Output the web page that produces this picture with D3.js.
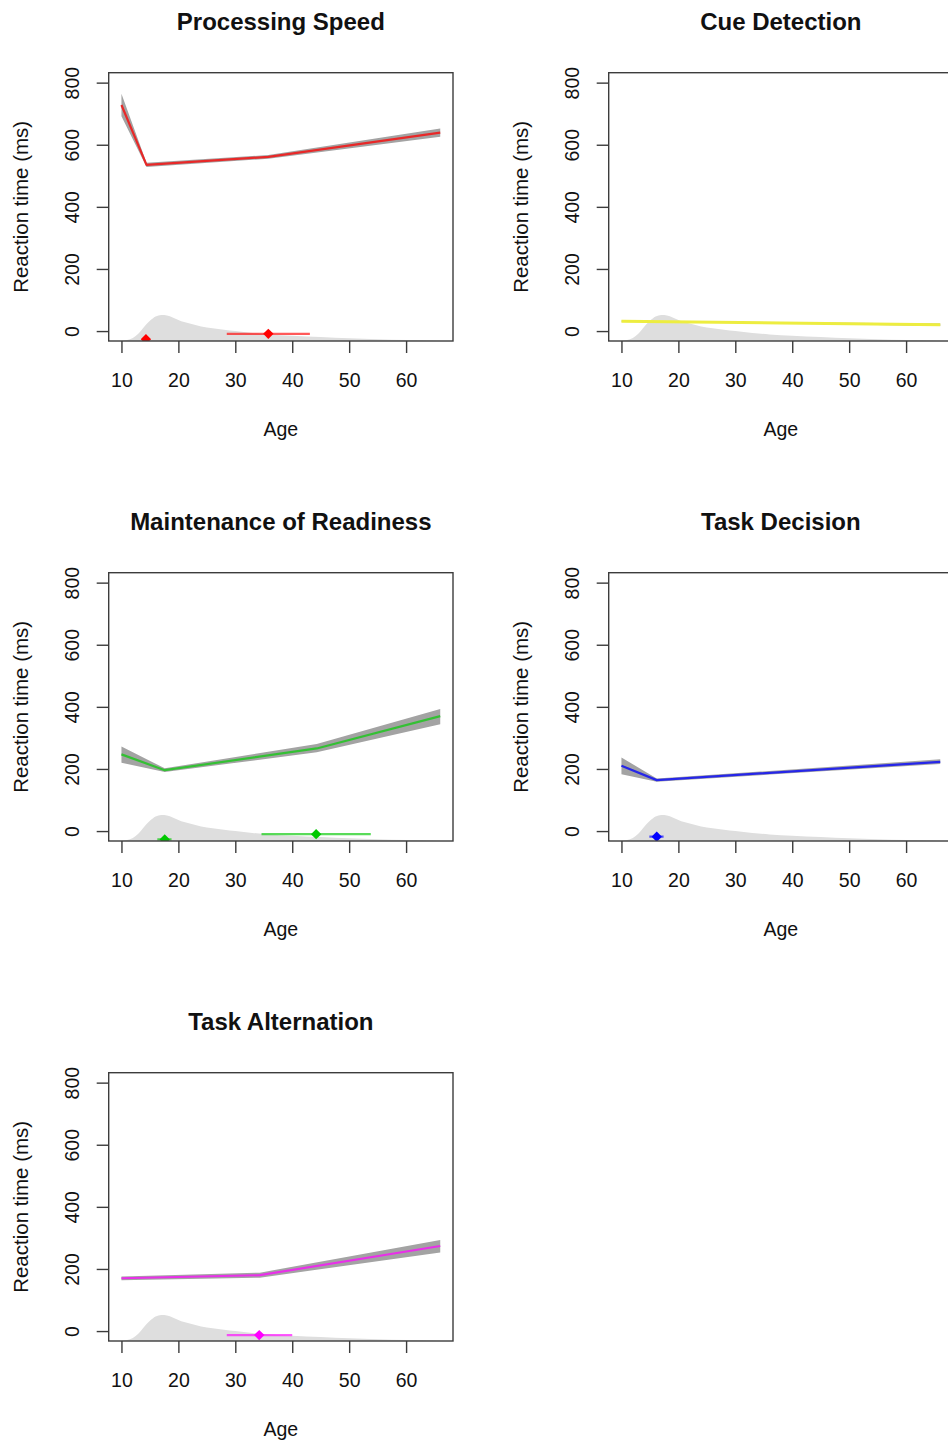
<!DOCTYPE html>
<html>
<head>
<meta charset="utf-8">
<script src="https://cdn.jsdelivr.net/npm/d3@7"></script>
<style>
  html, body { margin: 0; padding: 0; background: #fff; }
  svg { display: block; }
  text { font-family: "Liberation Sans", Arial, Helvetica, sans-serif; fill: #111; }
</style>
</head>
<body>
<svg id="chart" width="948" height="1443"></svg>
<script>
// ---- data -------------------------------------------------------------
const panelTitles = ["Processing Speed", "Cue Detection", "Maintenance of Readiness", "Task Decision", "Task Alternation"];
const lineColors   = ["#e82828", "#eded40", "#34c034", "#2626e8", "#e830e8"];
const markerColors = ["#ff0000", "#ffff00", "#00c800", "#0000ff", "#ff00ff"];

const xTicks = [10, 20, 30, 40, 50, 60];
const yTicks = [0, 200, 400, 600, 800];

// sample age distribution, drawn along the bottom of each panel (y units)
const densityAge = [10, 11, 12, 13, 14, 15, 16, 17, 17.5, 18, 19, 20, 21, 22, 24, 26, 28, 30, 33, 36, 40, 45, 50, 55, 60, 66];
const densityRT  = [-32, -29, -22, -8, 14, 33, 47, 52, 52, 50, 44, 36, 29, 24, 15, 9, 4, 0, -6, -11, -15, -19, -23, -26, -29, -31];

// Processing Speed
const speedAge  = [10, 14.4, 35.8, 66];
const speedRT   = [728, 535, 561, 639];
const speedLow  = [692, 528, 555, 626];
const speedHigh = [764, 542, 567, 652];
const speedBreakAge = [14.3, 35.8];
const speedBreakLo  = [14.0, 28.5];
const speedBreakHi  = [14.6, 43.1];
const speedBreakRT  = [-26, -9];

// Cue Detection
const cueAge  = [10, 38, 66];
const cueRT   = [32, 26, 20];
const cueLow  = [30.5, 24, 16];
const cueHigh = [33.5, 28, 24];
const cueBreakAge = [];
const cueBreakLo  = [];
const cueBreakHi  = [];
const cueBreakRT  = [];

// Maintenance of Readiness
const readyAge  = [10, 17.6, 44.3, 66];
const readyRT   = [247, 196, 266, 370];
const readyLow  = [220, 190, 254, 344];
const readyHigh = [272, 202, 280, 393];
const readyBreakAge = [17.6, 44.2];
const readyBreakLo  = [16.3, 34.6];
const readyBreakHi  = [18.8, 53.8];
const readyBreakRT  = [-27, -10];

// Task Decision
const decAge  = [10, 16.2, 66];
const decRT   = [210, 164, 223];
const decLow  = [183, 159, 216];
const decHigh = [237, 169, 231];
const decBreakAge = [16.2];
const decBreakLo  = [14.9];
const decBreakHi  = [17.4];
const decBreakRT  = [-18];

// Task Alternation
const altAge  = [10, 34.3, 66];
const altRT   = [170, 180, 274];
const altLow  = [164, 172, 253];
const altHigh = [176, 188, 293];
const altBreakAge = [34.2];
const altBreakLo  = [28.5];
const altBreakHi  = [40];
const altBreakRT  = [-13];

// ---- assemble panels --------------------------------------------------
const series = [
  [speedAge, speedRT, speedLow, speedHigh, speedBreakAge, speedBreakLo, speedBreakHi, speedBreakRT],
  [cueAge, cueRT, cueLow, cueHigh, cueBreakAge, cueBreakLo, cueBreakHi, cueBreakRT],
  [readyAge, readyRT, readyLow, readyHigh, readyBreakAge, readyBreakLo, readyBreakHi, readyBreakRT],
  [decAge, decRT, decLow, decHigh, decBreakAge, decBreakLo, decBreakHi, decBreakRT],
  [altAge, altRT, altLow, altHigh, altBreakAge, altBreakLo, altBreakHi, altBreakRT]
];

const density = densityAge.map((a, i) => ({ age: a, v: densityRT[i] }));

// layout of the 3 x 2 grid
const cellW = 500, cellH = 500;
const box = { left: 108.7, right: 453, top: 72.7, bottom: 341 };

const svg = d3.select("#chart");

series.forEach((s, k) => {
  const [ages, rt, lo, hi, bAge, bLo, bHi, bRT] = s;
  const col = k % 2, row = Math.floor(k / 2);
  const g = svg.append("g").attr("transform", `translate(${col * cellW},${row * cellH})`);

  // R-style 4% padding around data range 10..66 and ylim 0..800
  const x = d3.scaleLinear().domain([7.76, 68.24]).range([box.left, box.right]);
  const y = d3.scaleLinear().domain([-32, 832]).range([box.bottom, box.top]);

  const clipId = "clip" + k;
  g.append("clipPath").attr("id", clipId)
    .append("rect")
    .attr("x", box.left).attr("y", box.top)
    .attr("width", box.right - box.left).attr("height", box.bottom - box.top);

  const plot = g.append("g").attr("clip-path", `url(#${clipId})`);

  // age distribution
  plot.append("path")
    .datum(density)
    .attr("fill", "#dedede")
    .attr("d", d3.area()
      .x(d => x(d.age))
      .y0(y(-32))
      .y1(d => y(d.v))
      .curve(d3.curveMonotoneX));

  const pts = ages.map((a, i) => ({ age: a, v: rt[i], lo: lo[i], hi: hi[i] }));

  // confidence band
  plot.append("path")
    .datum(pts)
    .attr("fill", "#a3a3a3")
    .attr("d", d3.area()
      .x(d => x(d.age))
      .y0(d => y(d.lo))
      .y1(d => y(d.hi)));

  // fitted piecewise line
  plot.append("path")
    .datum(pts)
    .attr("fill", "none")
    .attr("stroke", lineColors[k])
    .attr("stroke-width", k === 1 ? 3 : 2.2)
    .attr("stroke-linejoin", "round")
    .attr("d", d3.line().x(d => x(d.age)).y(d => y(d.v)));

  // breakpoint estimates with intervals
  const bps = bAge.map((a, i) => ({ age: a, lo: bLo[i], hi: bHi[i], v: bRT[i] }));
  plot.selectAll("line.bar").data(bps).join("line")
    .attr("class", "bar")
    .attr("x1", d => x(d.lo)).attr("x2", d => x(d.hi))
    .attr("y1", d => y(d.v)).attr("y2", d => y(d.v))
    .attr("stroke", markerColors[k])
    .attr("stroke-opacity", 0.65)
    .attr("stroke-width", 2.2);
  const r = 5.2;
  plot.selectAll("path.pt").data(bps).join("path")
    .attr("class", "pt")
    .attr("fill", markerColors[k])
    .attr("d", d => {
      const cx = x(d.age), cy = y(d.v);
      return `M${cx},${cy - r}L${cx + r},${cy}L${cx},${cy + r}L${cx - r},${cy}Z`;
    });

  // frame
  g.append("rect")
    .attr("x", box.left).attr("y", box.top)
    .attr("width", box.right - box.left).attr("height", box.bottom - box.top)
    .attr("fill", "none")
    .attr("stroke", "#3c3c3c")
    .attr("stroke-width", 1.4);

  // x axis
  const xAxis = g.append("g")
    .attr("transform", `translate(0,${box.bottom})`)
    .call(d3.axisBottom(x).tickValues(xTicks).tickSize(12).tickFormat(d3.format("d")));
  xAxis.select(".domain").remove();
  xAxis.selectAll(".tick line").attr("stroke", "#3c3c3c").attr("stroke-width", 1.4);
  xAxis.selectAll(".tick text")
    .attr("y", 45.5).attr("dy", 0)
    .attr("font-size", 19.5)
    .attr("fill", "#111");

  // y axis
  const yAxis = g.append("g")
    .attr("transform", `translate(${box.left},0)`)
    .call(d3.axisLeft(y).tickValues(yTicks).tickSize(12).tickFormat(d3.format("d")));
  yAxis.select(".domain").remove();
  yAxis.selectAll(".tick line").attr("stroke", "#3c3c3c").attr("stroke-width", 1.4);
  yAxis.selectAll(".tick text")
    .attr("transform", "rotate(-90)")
    .attr("x", 0).attr("y", -29.5).attr("dy", 0)
    .attr("text-anchor", "middle")
    .attr("font-size", 19.5)
    .attr("fill", "#111");

  const cx = (box.left + box.right) / 2;
  const cy = (box.top + box.bottom) / 2;

  g.append("text")
    .attr("x", cx).attr("y", 29.5)
    .attr("text-anchor", "middle")
    .attr("font-weight", "bold")
    .attr("font-size", 24)
    .text(panelTitles[k]);

  g.append("text")
    .attr("x", cx).attr("y", 436)
    .attr("text-anchor", "middle")
    .attr("font-size", 19.5)
    .text("Age");

  g.append("text")
    .attr("transform", `translate(28,${cy}) rotate(-90)`)
    .attr("text-anchor", "middle")
    .attr("font-size", 20.5)
    .text("Reaction time (ms)");
});
</script>
</body>
</html>
